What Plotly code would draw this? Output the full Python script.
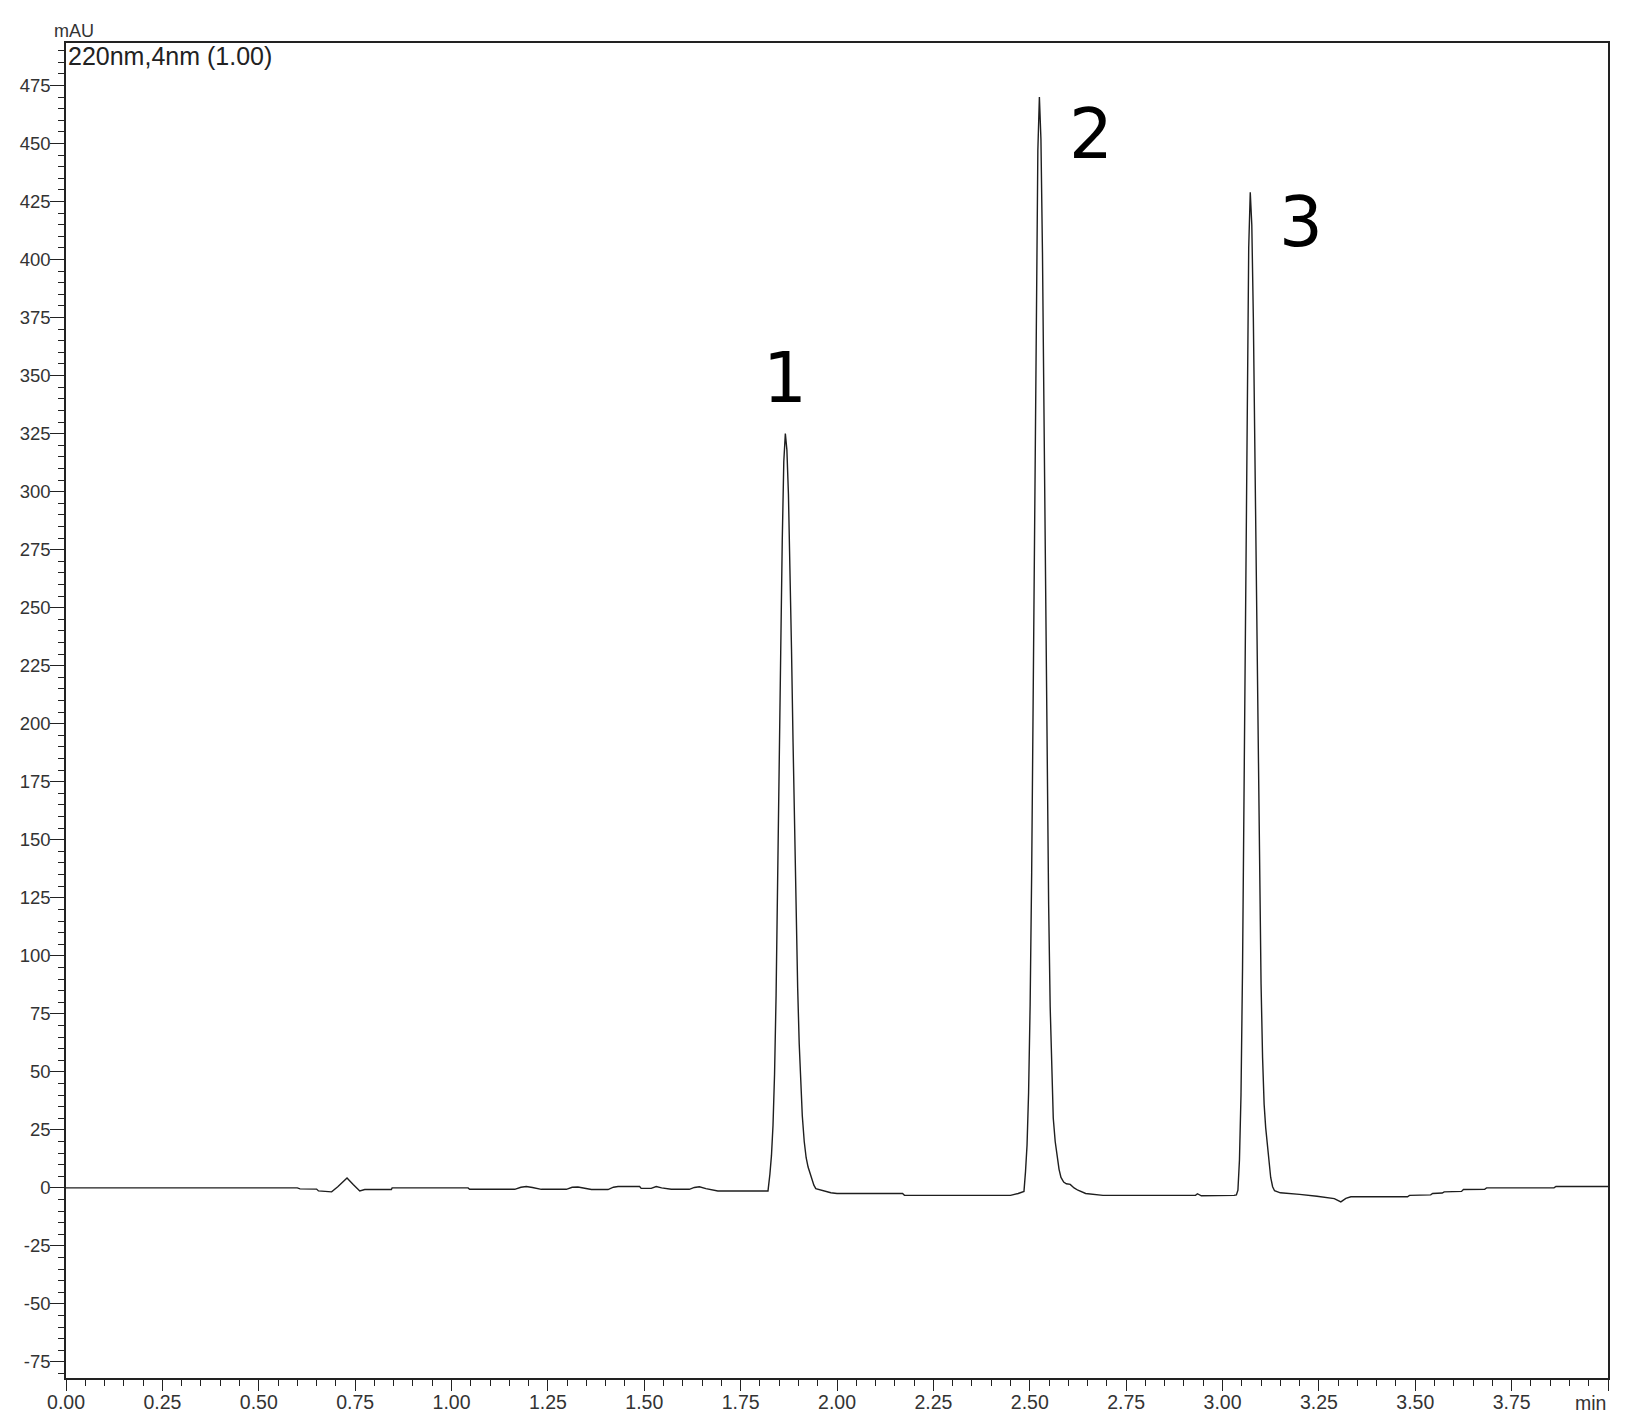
import plotly.graph_objects as go

# retention time (min) / signal (mAU)
base1_t = [0.00, 0.56, 0.600, 0.607, 0.650, 0.655, 0.689, 0.705, 0.729, 0.745, 0.762, 0.775,
           0.844, 0.846, 1.043, 1.047, 1.164, 1.180, 1.194, 1.210, 1.233, 1.298, 1.313, 1.328,
           1.345, 1.363, 1.406, 1.420, 1.432, 1.488, 1.492, 1.518, 1.531, 1.545, 1.570, 1.617,
           1.630, 1.643, 1.660, 1.691, 1.726, 1.800, 1.821]
base1_y = [0.0, 0.0, 0.0, -0.4, -0.5, -1.3, -1.7, 0.5, 4.3, 1.5, -1.3, -0.7,
           -0.7, 0.0, 0.0, -0.6, -0.6, 0.3, 0.6, 0.2, -0.6, -0.6, 0.3, 0.4,
           0.0, -0.7, -0.7, 0.3, 0.6, 0.6, -0.2, -0.2, 0.6, 0.0, -0.6, -0.6,
           0.2, 0.5, -0.3, -1.3, -1.3, -1.3, -1.3]

peak1_t = [1.826, 1.830, 1.834, 1.838, 1.842, 1.846, 1.850, 1.854, 1.858, 1.862, 1.866,
           1.870, 1.874, 1.878, 1.882, 1.886, 1.890, 1.894, 1.898, 1.902, 1.906, 1.910,
           1.915, 1.920, 1.925, 1.930, 1.935, 1.940]
peak1_y = [6, 14, 27, 49, 83, 126, 177, 231, 279, 313, 325,
           318, 299, 269, 232, 192, 152, 116, 86, 62, 44, 31,
           20, 13, 9, 6, 3, 1.2]

base2_t = [1.945, 1.960, 1.984, 2.000, 2.170, 2.175, 2.450, 2.470, 2.482, 2.485]
base2_y = [-0.3, -1.0, -2.1, -2.4, -2.4, -3.2, -3.2, -2.4, -1.7, -1.5]

peak2_t = [2.489, 2.493, 2.497, 2.501, 2.505, 2.509, 2.513, 2.517, 2.521, 2.525,
           2.529, 2.533, 2.537, 2.541, 2.545, 2.549, 2.553, 2.557, 2.561, 2.566,
           2.571, 2.576, 2.581, 2.588, 2.595, 2.605, 2.615, 2.625]
peak2_y = [7, 18.5, 41, 79, 136, 212, 301, 385, 447, 470,
           452, 403, 334, 256, 182, 122, 78, 48, 30, 20,
           13, 8, 4.5, 2.5, 1.8, 1.5, 0.0, -1.0]

base3_t = [2.645, 2.690, 2.930, 2.935, 2.945, 3.000, 3.030, 3.036]
base3_y = [-2.4, -3.2, -3.2, -2.5, -3.4, -3.4, -3.2, -3.0]

peak3_t = [3.040, 3.044, 3.048, 3.052, 3.056, 3.060, 3.064, 3.068, 3.072,
           3.076, 3.080, 3.084, 3.088, 3.092, 3.096, 3.100, 3.104, 3.108,
           3.112, 3.116, 3.120, 3.125, 3.130, 3.135]
peak3_y = [-1, 12, 40, 95, 180, 275, 350, 405, 429,
           415, 375, 318, 252, 188, 132, 88, 56, 36,
           26, 18.5, 11, 4.5, 0.5, -1.2]

base4_t = [3.150, 3.175, 3.200, 3.245, 3.290, 3.307, 3.320, 3.333, 3.480, 3.485, 3.540,
           3.545, 3.570, 3.575, 3.620, 3.625, 3.680, 3.685, 3.860, 3.865, 4.000]
base4_y = [-2.1, -2.4, -2.8, -3.6, -4.6, -6.0, -4.5, -3.8, -3.8, -3.2, -3.0,
           -2.4, -2.2, -1.7, -1.5, -0.7, -0.6, 0.0, 0.0, 0.6, 0.6]

# peak numbers and where their labels sit (time, mAU)
peak_names = ["1", "2", "3"]
peak_label_t = [1.864, 2.660, 3.203]
peak_label_y = [349, 454, 416]

x_tick_vals = [0.00, 0.25, 0.50, 0.75, 1.00, 1.25, 1.50, 1.75, 2.00, 2.25, 2.50, 2.75,
               3.00, 3.25, 3.50, 3.75, 4.00]
x_tick_text = ["0.00", "0.25", "0.50", "0.75", "1.00", "1.25", "1.50", "1.75", "2.00",
               "2.25", "2.50", "2.75", "3.00", "3.25", "3.50", "3.75", ""]
y_tick_vals = [-75, -50, -25, 0, 25, 50, 75, 100, 125, 150, 175, 200, 225, 250, 275,
               300, 325, 350, 375, 400, 425, 450, 475]
y_tick_text = [str(v) for v in y_tick_vals]  # plain hyphen minus, like the instrument print

time_min = base1_t + peak1_t + base2_t + peak2_t + base3_t + peak3_t + base4_t
signal_mau = base1_y + peak1_y + base2_y + peak2_y + base3_y + peak3_y + base4_y

x_font = dict(family="Liberation Sans, Arial, sans-serif", size=19.5, color="#333")
y_font = dict(family="Liberation Sans, Arial, sans-serif", size=18.5, color="#333")

fig = go.Figure()
fig.add_trace(go.Scatter(x=time_min, y=signal_mau, mode="lines",
                         line=dict(color="#1e1e1e", width=1.4), showlegend=False))

for name, t, y in zip(peak_names, peak_label_t, peak_label_y):
    fig.add_annotation(x=t, y=y, text=name, showarrow=False,
                       font=dict(family="DejaVu Sans", size=69, color="black"))

fig.add_annotation(xref="paper", yref="paper", x=0, y=1, xanchor="left", yanchor="top",
                   text="220nm,4nm (1.00)", showarrow=False, yshift=3,
                   font=dict(family="Liberation Sans, Arial", size=25, color="#222"))
fig.add_annotation(xref="paper", yref="paper", x=0, y=1, xanchor="left", yanchor="bottom",
                   text="mAU", showarrow=False, xshift=-14, yshift=0,
                   font=dict(family="Liberation Sans, Arial", size=18, color="#333"))
fig.add_annotation(xref="paper", yref="paper", x=1, y=0, xanchor="right", yanchor="top",
                   text="min", showarrow=False, yshift=-12,
                   font=x_font)

fig.update_xaxes(range=[0, 4.0], tickvals=x_tick_vals, ticktext=x_tick_text,
                 ticks="outside", ticklen=11, tickwidth=1.3, tickcolor="#222",
                 ticklabelstandoff=-5,
                 minor=dict(dtick=0.05, ticks="outside", ticklen=6, tickwidth=1.2, tickcolor="#222"),
                 showline=True, linecolor="#222", linewidth=1.5, mirror=True,
                 showgrid=False, zeroline=False, tickfont=x_font)
fig.update_yaxes(range=[-81.9, 493.3], tickvals=y_tick_vals, ticktext=y_tick_text,
                 ticks="outside", ticklen=14, tickwidth=1.3, tickcolor="#222",
                 ticklabelstandoff=-4,
                 minor=dict(dtick=5, tick0=0, ticks="outside", ticklen=6, tickwidth=1.2, tickcolor="#222"),
                 showline=True, linecolor="#222", linewidth=1.5, mirror=True,
                 showgrid=False, zeroline=False, tickfont=y_font)

fig.update_layout(width=1633, height=1417, plot_bgcolor="white", paper_bgcolor="white",
                  margin=dict(l=51, r=33, t=35, b=47))

fig.write_html("out.html")
